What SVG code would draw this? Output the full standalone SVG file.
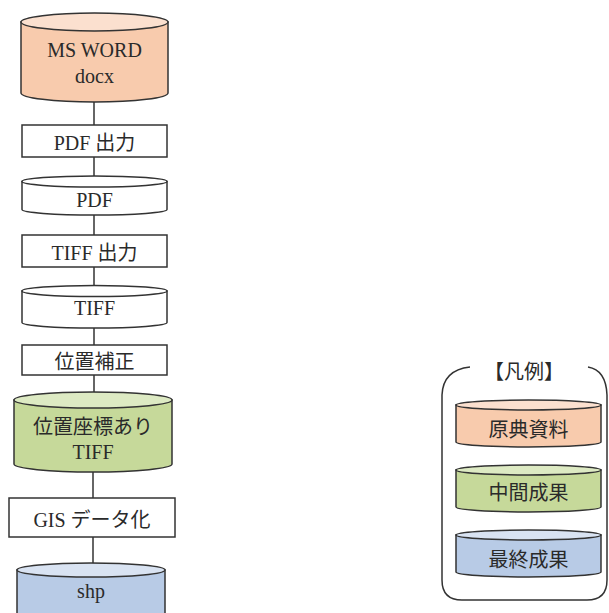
<svg xmlns="http://www.w3.org/2000/svg" width="609" height="613" viewBox="0 0 609 613">
<style>
.s{stroke:#333;stroke-width:1.5}
.box{fill:#fff;stroke:#333;stroke-width:1.5}
.t{font-family:"Liberation Serif","Noto Sans CJK JP",serif;font-size:20px;fill:#2a2a2a;text-anchor:middle}
.or{fill:#F8CBAD}.ort{fill:#FBE0CF}
.gr{fill:#C6D99A}.grt{fill:#DDEAC3}
.bl{fill:#B8CBE6}.blt{fill:#D9E3F2}
.wh{fill:#fff}
.c{fill:none;stroke:#333;stroke-width:1.5}
</style>
<rect width="609" height="613" fill="#fff"/>
<g id="connectors" class="c">
<line x1="94" y1="102" x2="94" y2="125"/>
<line x1="94" y1="157" x2="94" y2="177"/>
<line x1="94" y1="215" x2="94" y2="235"/>
<line x1="94" y1="267" x2="94" y2="286"/>
<line x1="94" y1="328" x2="94" y2="345"/>
<line x1="94" y1="375" x2="94" y2="393"/>
<line x1="93" y1="472" x2="93" y2="498"/>
<line x1="93" y1="537" x2="93" y2="564"/>
</g>
<g id="msword">
<path class="or s" d="M21,22 V93 A73.5,9 0 0 0 168,93 V22 Z"/>
<ellipse class="ort s" cx="94.5" cy="22" rx="73.5" ry="9"/>
<text class="t" x="94.5" y="57">MS WORD</text>
<text class="t" x="94.5" y="83">docx</text>
</g>
<g id="pdfout">
<rect class="box" x="22" y="125" width="145" height="32"/>
<text class="t" x="94.5" y="150">PDF 出力</text>
</g>
<g id="pdf">
<path class="wh s" d="M22,181.5 V209.5 A72.5,5.5 0 0 0 167,209.5 V181.5 Z"/>
<ellipse class="wh s" cx="94.5" cy="181.5" rx="72.5" ry="5.5"/>
<text class="t" x="94.5" y="207">PDF</text>
</g>
<g id="tiffout">
<rect class="box" x="22" y="235" width="145" height="32"/>
<text class="t" x="94.5" y="260">TIFF 出力</text>
</g>
<g id="tiff">
<path class="wh s" d="M22,291 V322.5 A72.5,5.5 0 0 0 167,322.5 V291 Z"/>
<ellipse class="wh s" cx="94.5" cy="291" rx="72.5" ry="5.5"/>
<text class="t" x="94.5" y="315">TIFF</text>
</g>
<g id="ichihosei">
<rect class="box" x="22" y="345" width="145" height="30"/>
<text class="t" x="94.5" y="369">位置補正</text>
</g>
<g id="geotiff">
<path class="gr s" d="M14,400 V464 A79,8 0 0 0 172,464 V400 Z"/>
<ellipse class="grt s" cx="93" cy="400" rx="79" ry="8"/>
<text class="t" x="93" y="434">位置座標あり</text>
<text class="t" x="93" y="459">TIFF</text>
</g>
<g id="gis">
<rect class="box" x="9" y="498" width="166" height="39"/>
<text class="t" x="92" y="527">GIS データ化</text>
</g>
<g id="shp">
<path class="bl s" d="M17,570 V620 H165 V570 Z"/>
<ellipse class="blt s" cx="91" cy="570" rx="74" ry="7"/>
<text class="t" x="91" y="598">shp</text>
</g>
<g id="legend">
<path class="c" d="M470,367 Q443,370 442,395 V580 Q442,600 462,600 H587 Q607,600 607,580 V395 Q606,370 588,367"/>
<text class="t" x="524" y="379">【凡例】</text>
<g id="legend-genten">
<path class="or s" d="M456,405 V442 A72.5,5 0 0 0 601,442 V405 Z"/>
<ellipse class="ort s" cx="528.5" cy="405" rx="72.5" ry="5"/>
<text class="t" x="528.5" y="437">原典資料</text>
</g>
<g id="legend-chukan">
<path class="gr s" d="M456,470 V507 A72.5,5 0 0 0 601,507 V470 Z"/>
<ellipse class="grt s" cx="528.5" cy="470" rx="72.5" ry="5"/>
<text class="t" x="528.5" y="500">中間成果</text>
</g>
<g id="legend-saishu">
<path class="bl s" d="M456,535 V572 A72.5,5 0 0 0 601,572 V535 Z"/>
<ellipse class="blt s" cx="528.5" cy="535" rx="72.5" ry="5"/>
<text class="t" x="528.5" y="567">最終成果</text>
</g>
</g>
</svg>
